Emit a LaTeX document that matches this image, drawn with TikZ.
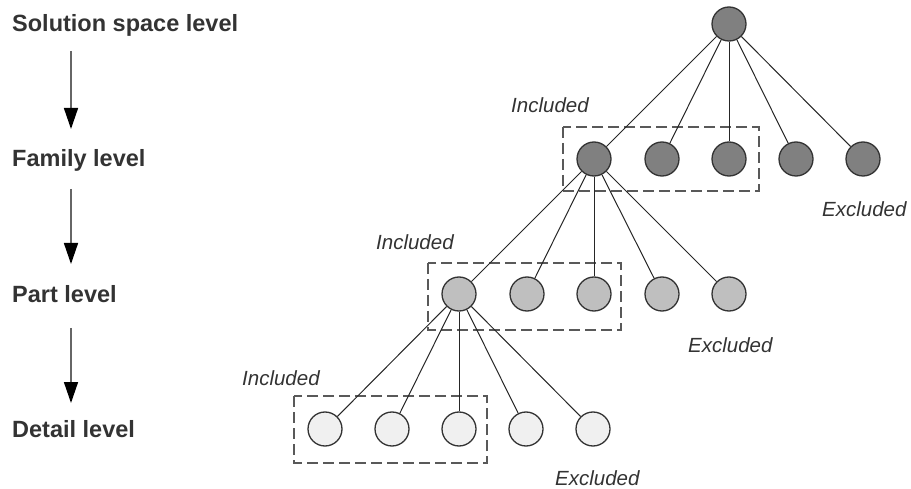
\documentclass[tikz,border=0pt]{standalone}
\usepackage{fontspec}
\setmainfont{Liberation Sans}
\usetikzlibrary{arrows.meta}
\begin{document}
\begin{tikzpicture}[x=1pt,y=-1pt,
 lvl/.style={font=\fontsize{23.5}{25}\selectfont\bfseries, text=black!80, anchor=base west, inner sep=0},
 tag/.style={font=\fontsize{20.5}{22}\selectfont\itshape, text=black!80, anchor=west, inner sep=0},
 nd/.style={circle, draw=black!80, line width=1.3pt, minimum size=34pt, inner sep=0},
 dark/.style={nd, fill=black!50},
 mid/.style={nd, fill=black!25},
 light/.style={nd, fill=black!6},
 edge/.style={draw=black!85, line width=1pt},
 grp/.style={draw=black!65, line width=1.6pt, dash pattern=on 11pt off 5pt},
 lvarr/.style={draw=black!60, line width=1.5pt, -{Triangle[length=21pt,width=14pt,black]}}
]
\useasboundingbox (0,0) rectangle (911,489);

% level labels
\node[lvl] (lsol) at (12,32) {Solution space level};
\node[lvl] (lfam) at (12,167) {Family level};
\node[lvl] (lpart) at (12,302) {Part level};
\node[lvl] (ldet) at (12,437) {Detail level};

\coordinate (a1s) at (71,51);  \coordinate (a1e) at (71,129);
\coordinate (a2s) at (71,189); \coordinate (a2e) at (71,264);
\coordinate (a3s) at (71,328); \coordinate (a3e) at (71,403);
\draw[lvarr] (a1s) -- (a1e);
\draw[lvarr] (a2s) -- (a2e);
\draw[lvarr] (a3s) -- (a3e);

% group boxes
\draw[grp] (563,127) rectangle (759,191);
\draw[grp] (428,263) rectangle (621,330);
\draw[grp] (294,396) rectangle (487,463);

% nodes
\node[dark] (r) at (729,24) {};
\node[dark] (f1) at (594,159) {};
\node[dark] (f2) at (662,159) {};
\node[dark] (f3) at (729,159) {};
\node[dark] (f4) at (796,159) {};
\node[dark] (f5) at (863,159) {};
\node[mid] (p1) at (459,294) {};
\node[mid] (p2) at (527,294) {};
\node[mid] (p3) at (594,294) {};
\node[mid] (p4) at (662,294) {};
\node[mid] (p5) at (729,294) {};
\node[light] (d1) at (325,429) {};
\node[light] (d2) at (392,429) {};
\node[light] (d3) at (459,429) {};
\node[light] (d4) at (526,429) {};
\node[light] (d5) at (593,429) {};

% edges
\foreach \c in {f1,f2,f3,f4,f5} \draw[edge] (r) -- (\c);
\foreach \c in {p1,p2,p3,p4,p5} \draw[edge] (f1) -- (\c);
\foreach \c in {d1,d2,d3,d4,d5} \draw[edge] (p1) -- (\c);

% tags
\node[tag] (i1) at (511,105) {Included};
\node[tag] (i2) at (376,242) {Included};
\node[tag] (i3) at (242,378) {Included};
\node[tag] (e1) at (822,209) {Excluded};
\node[tag] (e2) at (688,345) {Excluded};
\node[tag] (e3) at (555,478) {Excluded};
\end{tikzpicture}
\end{document}
